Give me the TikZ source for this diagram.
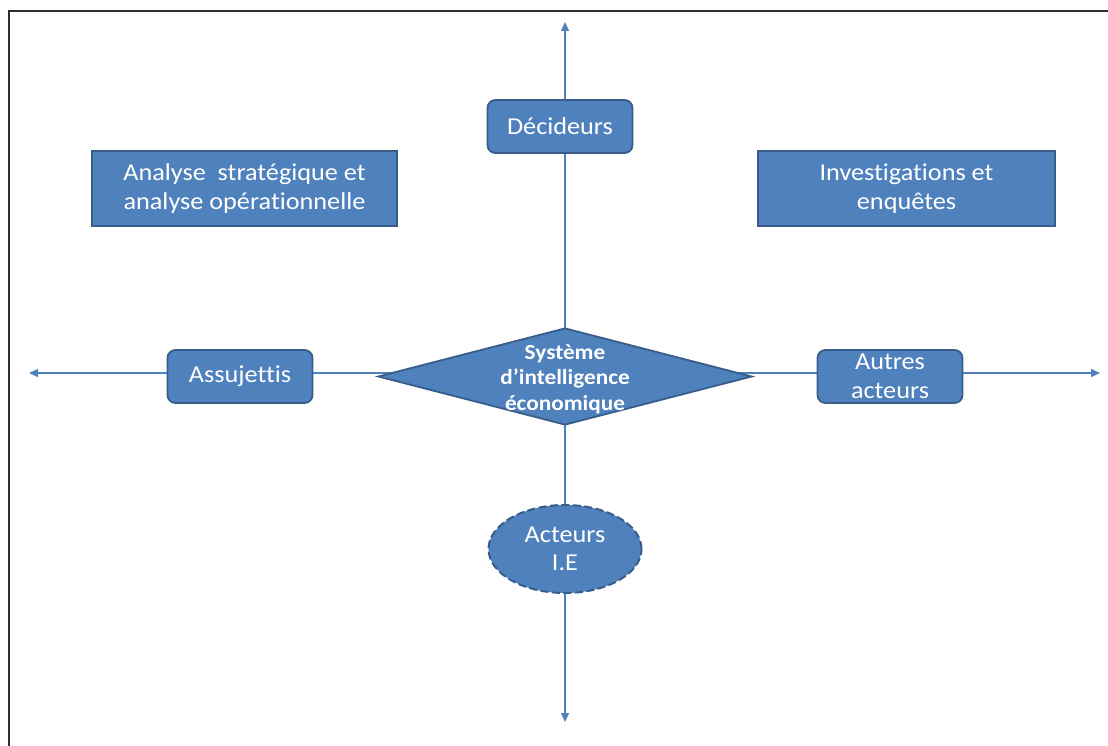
\documentclass[tikz,border=0pt]{standalone}
\usepackage{fontspec}
\setmainfont{Carlito}[FakeStretch=1.08,Ligatures=NoCommon]
\usetikzlibrary{shapes.geometric,arrows.meta,backgrounds}
\definecolor{boxfill}{HTML}{4F81BD}
\definecolor{boxline}{HTML}{385D8A}
\definecolor{axisc}{HTML}{4F81BD}
\definecolor{framec}{HTML}{2E2E2E}
\begin{document}
\begin{tikzpicture}[x=1pt,y=-1pt,
  shapebase/.style={draw=boxline,fill=boxfill,line width=1.8pt,text=white,align=center,inner sep=0pt},
  box/.style={shapebase,font=\fontsize{24.3}{28.5}\selectfont},
  sqbox/.style={box,minimum height=75pt},
  rbox/.style={box,rounded corners=8pt,minimum width=145pt,minimum height=53pt},
  axis/.style={draw=axisc,line width=1.3pt,arrows={Triangle[length=9pt,width=8pt]-Triangle[length=9pt,width=8pt]}}]
\useasboundingbox (0,0) rectangle (1108,746);
\draw[framec,line width=2.6pt] (9,746) -- (9,11) -- (1108,11);
% axis ends
\coordinate (top) at (565,22);
\coordinate (bottom) at (565,722);
\coordinate (left) at (29,373);
\coordinate (right) at (1100,373);
% nodes
\node[sqbox,minimum width=305pt] (ana) at (244.5,188.5) {Analyse\ \ stratégique et\\analyse opérationnelle};
\node[sqbox,minimum width=297pt] (inv) at (906.5,188.5) {Investigations et\\enquêtes};
\node[rbox] (dec) at (560,126.5) {Décideurs};
\node[rbox] (ass) at (240,376.5) {Assujettis};
\node[rbox] (aut) at (890,376.5) {Autres\\acteurs};
\node[shapebase,diamond,minimum width=374pt,minimum height=97pt] (sie) at (565,376.5) {};
\node[text=white,align=center,inner sep=0pt,font=\fontsize{21.5}{25.5}\bfseries\selectfont] (siet) at (565,379) {Système\\d’intelligence\\économique};
\node[box,ellipse,dash pattern=on 8pt off 3.5pt,line width=2pt,minimum width=153pt,minimum height=88pt] (act) at (565,549) {Acteurs\\I.E};
\begin{scope}[on background layer]
\draw[axis] (top) -- (bottom);
\draw[axis] (left) -- (right);
\end{scope}
\end{tikzpicture}
\end{document}
